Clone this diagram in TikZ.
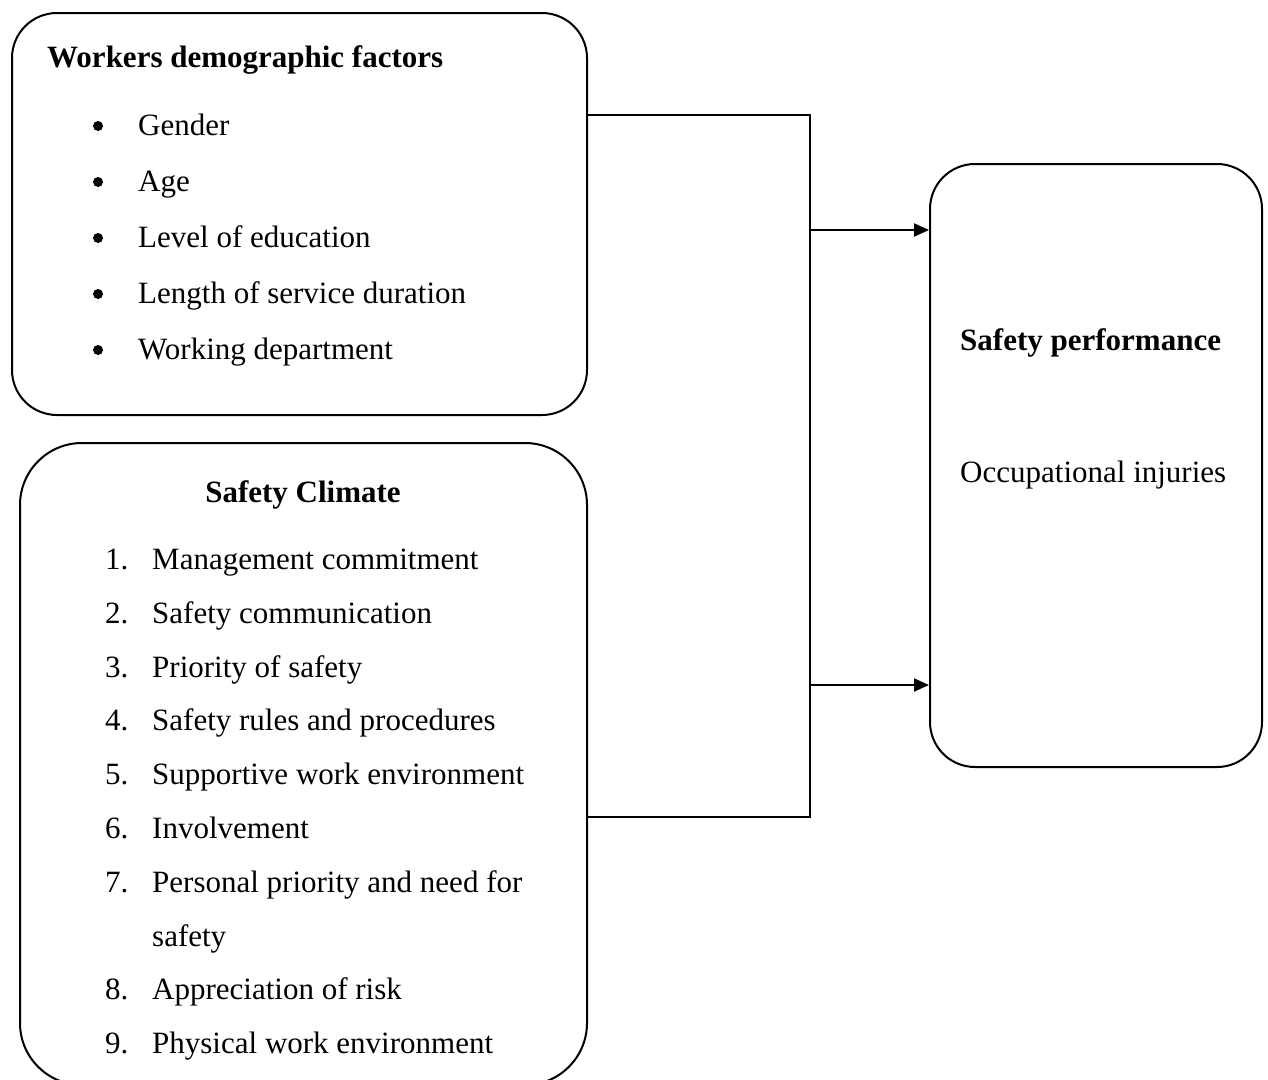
\documentclass[tikz,border=0pt]{standalone}
\usepackage{fontspec}
\setmainfont{Liberation Serif}
\usetikzlibrary{arrows.meta,calc}
\begin{document}
\begin{tikzpicture}[x=1pt,y=-1pt,
  box/.style={draw,line width=2pt,rounded corners=#1,minimum width=0pt,inner sep=0pt},
  txt/.style={anchor=base west,inner sep=0pt,font=\fontsize{31}{37}\selectfont},
  ttl/.style={anchor=base west,inner sep=0pt,font=\fontsize{31}{37}\selectfont\bfseries},
  conn/.style={line width=2pt},
  arr/.style={line width=2pt,-{Triangle[length=15pt,width=13pt]}},
  dot/.style={circle,fill,inner sep=0pt,minimum size=10pt}]
\useasboundingbox (0,0) rectangle (1268,1079);
\begin{scope}
\clip (0,0) rectangle (1268,1079);
% boxes
\node[box=45pt,minimum width=575pt,minimum height=402pt] (b1) at (299.5,214) {};
\node[box=62pt,minimum width=567pt,minimum height=642pt] (b2) at (303.5,764) {};
\end{scope}
\node[box=45pt,minimum width=332pt,minimum height=603pt] (b3) at (1096,465.5) {};

% box 1 text
\node[ttl] (t1) at (47,67) {Workers demographic factors};
\foreach \i/\t/\y in {1/Gender/135,2/Age/191,3/Level of education/247,4/Length of service duration/303,5/Working department/359}{
  \node[dot] (d\i) at (98,\y-9) {};
  \node[txt] (w\i) at (138,\y) {\t};
}

% box 2 text
\node[anchor=base,inner sep=0pt,font=\fontsize{31}{37}\selectfont\bfseries] (t2) at (303,502) {Safety Climate};
\foreach \i/\t/\y in {1/Management commitment/569,2/Safety communication/623,3/Priority of safety/677,4/Safety rules and procedures/730,5/Supportive work environment/784,6/Involvement/838,7/Personal priority and need for/892,8/Appreciation of risk/999,9/Physical work environment/1053}{
  \node[txt] (n\i) at (105,\y) {\i.};
  \node[txt] (s\i) at (152,\y) {\t};
}
\node[txt] (s7b) at (152,946) {safety};

% box 3 text
\node[ttl] (t3) at (960,350) {Safety performance};
\node[txt] (o1) at (960,482) {Occupational injuries};

% connectors
\coordinate (j1) at (810,115);
\coordinate (j2) at (810,817);
\coordinate (a1) at (810,230);
\coordinate (a2) at (810,685);
\draw[conn] (b1.east |- j1) -- (j1) -- (j2) -- (b2.east |- j2);
\draw[arr] (a1) -- (b3.west |- a1);
\draw[arr] (a2) -- (b3.west |- a2);
\end{tikzpicture}
\end{document}
